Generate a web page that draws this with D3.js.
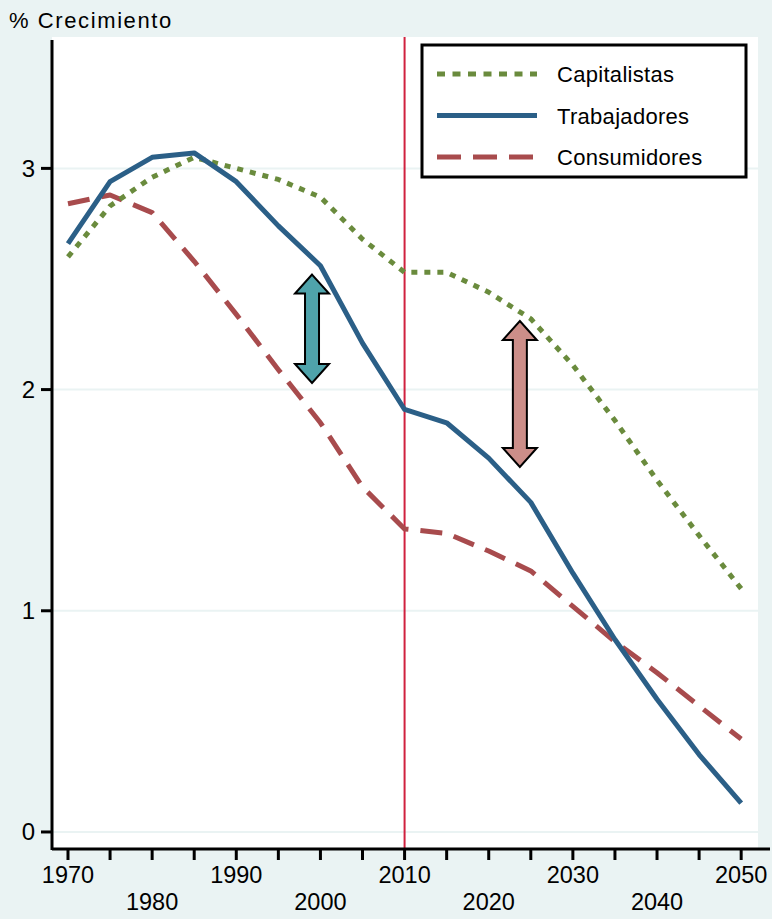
<!DOCTYPE html>
<html>
<head>
<meta charset="utf-8">
<script src="https://cdn.jsdelivr.net/npm/d3@7"></script>
<style>
  body { margin: 0; background: #eaf3f3; }
  svg { display: block; }
</style>
</head>
<body>
<svg width="772" height="919"></svg>
<script>
const years = [1970, 1975, 1980, 1985, 1990, 1995, 2000, 2005, 2010, 2015, 2020, 2025, 2030, 2035, 2040, 2045, 2050];
const capitalistas  = [2.60, 2.83, 2.96, 3.05, 3.00, 2.95, 2.87, 2.68, 2.53, 2.53, 2.44, 2.32, 2.11, 1.86, 1.59, 1.34, 1.10];
const trabajadores  = [2.66, 2.94, 3.05, 3.07, 2.94, 2.74, 2.56, 2.21, 1.91, 1.85, 1.69, 1.49, 1.17, 0.87, 0.60, 0.35, 0.13];
const consumidores  = [2.84, 2.88, 2.80, 2.58, 2.34, 2.09, 1.85, 1.56, 1.37, 1.35, 1.27, 1.18, 1.02, 0.86, 0.72, 0.57, 0.42];
const seriesNames = ["Capitalistas", "Trabajadores", "Consumidores"];
const yTicks = [0, 1, 2, 3];
const xTicks = [1970, 1980, 1990, 2000, 2010, 2020, 2030, 2040, 2050];
const xMinor = [1975, 1985, 1995, 2005, 2015, 2025, 2035, 2045];
const vline = 2010;
// double arrows: year, top value, bottom value
const arrowYears = [1999, 2023.7];
const arrowTops = [2.52, 2.31];
const arrowBottoms = [2.03, 1.65];

const svg = d3.select("svg");
const pLeft = 52, pRight = 758, pTop = 37, pBottom = 849;
const font = "Liberation Sans, Arial, sans-serif";

const x = d3.scaleLinear().domain([1968.1, 2052.0]).range([pLeft, pRight]);
const y = d3.scaleLinear().domain([-0.077, 3.594]).range([pBottom, pTop]);

// plot background
svg.append("rect").attr("x", pLeft).attr("y", pTop)
  .attr("width", pRight - pLeft).attr("height", pBottom - pTop).attr("fill", "#fff");

// grid
svg.selectAll(".grid").data(yTicks).enter().append("line")
  .attr("x1", pLeft).attr("x2", pRight)
  .attr("y1", d => y(d)).attr("y2", d => y(d))
  .attr("stroke", "#eaf3f3").attr("stroke-width", 2);

// vertical 2010 line
svg.append("line").attr("x1", x(vline)).attr("x2", x(vline))
  .attr("y1", pTop).attr("y2", pBottom)
  .attr("stroke", "#d0213f").attr("stroke-width", 2);

const line = d3.line().x((d, i) => x(years[i])).y(d => y(d));

const styles = [
  { data: capitalistas, color: "#6a8b3d", dash: "6,7" },
  { data: trabajadores, color: "#2b5f87", dash: null },
  { data: consumidores, color: "#a84b4d", dash: "22,12" }
];
// consumidores first, then capitalistas, trabajadores on top
[2, 0, 1].forEach(k => {
  const s = styles[k];
  svg.append("path").datum(s.data)
    .attr("d", line)
    .attr("fill", "none")
    .attr("stroke", s.color)
    .attr("stroke-width", 5)
    .attr("stroke-linejoin", "round")
    .attr("stroke-dasharray", s.dash);
});

// arrows
const arrowFill = ["#4fa3ab", "#cc8e89"];
function arrowPath(cx, y1, y2) {
  const sw = 7, hw = 17, hh = 19;
  return `M${cx},${y1} L${cx + hw},${y1 + hh} L${cx + sw},${y1 + hh} L${cx + sw},${y2 - hh}
    L${cx + hw},${y2 - hh} L${cx},${y2} L${cx - hw},${y2 - hh} L${cx - sw},${y2 - hh}
    L${cx - sw},${y1 + hh} L${cx - hw},${y1 + hh} Z`;
}
svg.selectAll(".arrow").data(arrowYears).enter().append("path")
  .attr("d", (d, i) => arrowPath(x(d), y(arrowTops[i]), y(arrowBottoms[i])))
  .attr("fill", (d, i) => arrowFill[i])
  .attr("stroke", "#000").attr("stroke-width", 2).attr("stroke-linejoin", "miter");

// y axis
svg.append("line").attr("x1", pLeft).attr("x2", pLeft).attr("y1", pTop + 3).attr("y2", pBottom + 1)
  .attr("stroke", "#000").attr("stroke-width", 3);
svg.selectAll(".ytick").data(yTicks).enter().append("line")
  .attr("x1", pLeft - 11).attr("x2", pLeft).attr("y1", d => y(d)).attr("y2", d => y(d))
  .attr("stroke", "#000").attr("stroke-width", 3);
svg.selectAll(".ylab").data(yTicks).enter().append("text")
  .attr("x", 35).attr("y", d => y(d) + 8.5)
  .attr("text-anchor", "end")
  .attr("font-family", font).attr("font-size", 24)
  .text(d => d);

// x axis
svg.append("line").attr("x1", pLeft).attr("x2", 770).attr("y1", pBottom).attr("y2", pBottom)
  .attr("stroke", "#000").attr("stroke-width", 3);
svg.selectAll(".xtick").data(xTicks.concat(xMinor)).enter().append("line")
  .attr("x1", d => x(d)).attr("x2", d => x(d)).attr("y1", pBottom).attr("y2", pBottom + 11)
  .attr("stroke", "#000").attr("stroke-width", 3);
svg.selectAll(".xlab").data(xTicks).enter().append("text")
  .attr("x", d => x(d))
  .attr("y", (d, i) => i % 2 === 0 ? 883 : 910)
  .attr("text-anchor", "middle")
  .attr("font-family", font).attr("font-size", 23.5)
  .text(d => d);

// title
svg.append("text").attr("x", 9).attr("y", 28)
  .attr("font-family", font).attr("font-size", 22)
  .attr("letter-spacing", 1.6)
  .text("% Crecimiento");

// legend
const lg = svg.append("g").attr("transform", "translate(422,45)");
lg.append("rect").attr("width", 324).attr("height", 132)
  .attr("fill", "#fff").attr("stroke", "#000").attr("stroke-width", 3);
[0, 1, 2].forEach((k, i) => {
  const s = styles[k];
  const yy = 29 + i * 41.5;
  lg.append("line").attr("x1", 15).attr("x2", 115).attr("y1", yy).attr("y2", yy)
    .attr("stroke", s.color).attr("stroke-width", 5)
    .attr("stroke-dasharray", k === 0 ? "8,7.5" : k === 2 ? "24,12" : null);
  lg.append("text").attr("x", 135).attr("y", yy + 8)
    .attr("font-family", font).attr("font-size", 22)
    .attr("letter-spacing", 0.3)
    .text(seriesNames[k]);
});
</script>
</body>
</html>
